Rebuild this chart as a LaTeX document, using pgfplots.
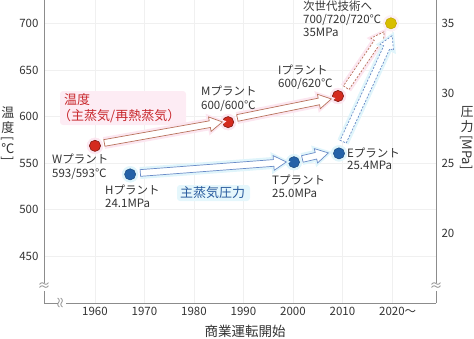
\documentclass[border=0pt]{standalone}
\usepackage{pgfplots}
\pgfplotsset{compat=1.18}
\usepackage{fontspec}
\setmainfont{Noto Sans CJK JP}
\usetikzlibrary{shapes.arrows,calc}
\definecolor{txt}{HTML}{333333}
\definecolor{tred}{HTML}{C8282D}
\definecolor{tblue}{HTML}{2A5C9E}
\definecolor{dred}{HTML}{D42A1E}
\definecolor{dblue}{HTML}{2462A8}
\definecolor{dyel}{HTML}{D8BE00}
\definecolor{aredl}{HTML}{B8725C}
\definecolor{abluel}{HTML}{6A8CC8}
\definecolor{gpink}{HTML}{FCE6F0}
\definecolor{gcyan}{HTML}{E0F5FB}
\definecolor{axgray}{HTML}{8C8C8C}

% #1 glow colour, #2 style, #3 tail, #4 tip
\newcommand\blockarrow[4]{%
  \path let \p1=#3, \p2=#4, \n1={veclen(\x2-\x1,\y2-\y1)}, \n2={atan2(\y2-\y1,\x2-\x1)} in
    node[single arrow, minimum height=\n1, rotate=\n2, anchor=tail, inner xsep=0pt, inner ysep=3pt,
         single arrow head extend=4pt, single arrow tip angle=60, draw=#1, fill=#1, line width=3pt] at (\p1) {}
    node[single arrow, minimum height=\n1, rotate=\n2, anchor=tail, inner xsep=0pt, inner ysep=3pt,
         single arrow head extend=4pt, single arrow tip angle=60, line width=0.7pt, fill=white, #2] at (\p1) {};}

\begin{document}
\begin{tikzpicture}
\pgfplotsset{
  base/.style={
    at={(44pt,-303pt)}, anchor=south west, scale only axis,
    width=392pt, height=303pt,
    xmin=1949.7, xmax=2028.9,
    clip=false,
    tick style={draw=none},
    axis line style={axgray, line width=0.8pt},
    /pgf/number format/assume math mode=true,
    ticklabel style={font=\fontsize{11.5}{13}\selectfont, text=txt},
  }
}
\begin{axis}[base,
  ymin=400, ymax=725,
  axis x line*=bottom, axis y line*=left,
  xtick={1960,1970,1980,1990,2000,2010,2020},
  xticklabels={1960,1970,1980,1990,2000,2010,2020\rlap{～}},
  ytick={450,500,550,600,650,700},
  yticklabel style={xshift=-2pt},
  xticklabel style={yshift=-1pt},
  grid=major, major grid style={gray!12, line width=0.6pt},
]
\addplot[only marks, mark=*, color=gpink, mark size=8pt]
  coordinates {(1960,568.6) (1986.9,594) (2009.1,622)};
\addplot[only marks, mark=*, color=dred!60!black, mark size=5.6pt, mark options={fill=dred, line width=0.6pt}]
  coordinates {(1960,568.6) (1986.9,594) (2009.1,622)};
\addplot[only marks, mark=*, color=gpink!60, mark size=8pt]
  coordinates {(2019.8,700)};
\addplot[only marks, mark=*, color=dyel!85!black, mark size=5.6pt, mark options={fill=dyel, line width=0.5pt}]
  coordinates {(2019.8,700)};
\end{axis}
\begin{axis}[base,
  ymin=15, ymax=36.6667,
  axis x line=none, axis y line*=right,
  ytick={20,25,30,35},
  yticklabel style={xshift=2pt},
]
\addplot[only marks, mark=*, color=gcyan, mark size=8pt]
  coordinates {(1967.1,24.2) (2000.2,25.07) (2009.3,25.7)};
\addplot[only marks, mark=*, color=dblue!75!black, mark size=5.6pt, mark options={fill=dblue, line width=0.5pt}]
  coordinates {(1967.1,24.2) (2000.2,25.07) (2009.3,25.7)};
\end{axis}

\begin{scope}[x=1pt, y=-1pt,
  lbl/.style={anchor=west, inner sep=0pt, text height=10.5pt, text depth=2.5pt,
              font=\fontsize{11.5}{13}\selectfont, text=txt}]
  % label glows
  \fill[gpink!75, rounded corners=3pt] (60,91) rectangle (186,125);
  \fill[gcyan!85, rounded corners=3pt] (177,185) rectangle (250,201);
  % arrows
  \blockarrow{gpink}{draw=aredl}{(104,143)}{(222,122)}
  \blockarrow{gpink}{draw=aredl}{(237,118)}{(331,99)}
  \blockarrow{gpink}{draw=aredl, dash pattern=on 2pt off 1.5pt}{(346,88)}{(384,32)}
  \blockarrow{gcyan}{draw=abluel}{(140,173)}{(286,162)}
  \blockarrow{gcyan}{draw=abluel}{(302,159)}{(328,153)}
  \blockarrow{gcyan}{draw=abluel, dash pattern=on 2pt off 1.5pt}{(343,142)}{(392,36)}
  % plant labels
  \node[lbl] at (52,159) {Wプラント};
  \node[lbl] at (52,173) {593/593℃};
  \node[lbl] at (105,190) {Hプラント};
  \node[lbl] at (105,203) {24.1MPa};
  \node[lbl] at (201,91) {Mプラント};
  \node[lbl] at (201,105) {600/600℃};
  \node[lbl] at (278,70) {Iプラント};
  \node[lbl] at (278,83) {600/620℃};
  \node[lbl] at (272,180) {Tプラント};
  \node[lbl] at (272,193) {25.0MPa};
  \node[lbl] at (347,153) {Eプラント};
  \node[lbl] at (347,165) {25.4MPa};
  \node[lbl] at (303,6) {次世代技術へ};
  \node[lbl] at (303,19) {700/720/720℃};
  \node[lbl] at (303,32) {35MPa};
  % series labels
  \node[lbl, font=\fontsize{13}{15}\selectfont, text=tred] at (64,100) {温度};
  \node[lbl, font=\fontsize{13}{15}\selectfont, text=tred] at (58,116) {（主蒸気/再熱蒸気）};
  \node[lbl, font=\fontsize{13}{15}\selectfont, text=tblue] at (180,193) {主蒸気圧力};
  % axis titles
  \node[inner sep=0pt, font=\fontsize{13.5}{15}\selectfont, text=txt] at (245,331) {商業運転開始};
  \node[inner sep=0pt, font=\fontsize{13}{13}\selectfont, text=txt] at (8,134)
    {\shortstack{温\\度\\\rotatebox{-90}{[}\\℃\\\rotatebox{-90}{]}}};
  \node[inner sep=0pt, font=\fontsize{13}{13}\selectfont, text=txt] at (467,138)
    {\shortstack{圧\\力\\\rotatebox{-90}{[MPa]}}};
  % axis breaks
  \node[fill=white, inner sep=0.5pt, font=\fontsize{13}{13}\selectfont, text=axgray] at (44,287) {≈};
  \node[fill=white, inner sep=0.5pt, font=\fontsize{13}{13}\selectfont, text=axgray] at (436,287) {≈};
  \node[fill=white, inner sep=0.5pt, font=\fontsize{13}{13}\selectfont, text=axgray, rotate=90] at (62,303) {≈};
\end{scope}
\pgfresetboundingbox
\path[use as bounding box] (0,0) rectangle (474pt,-338pt);
\end{tikzpicture}
\end{document}
